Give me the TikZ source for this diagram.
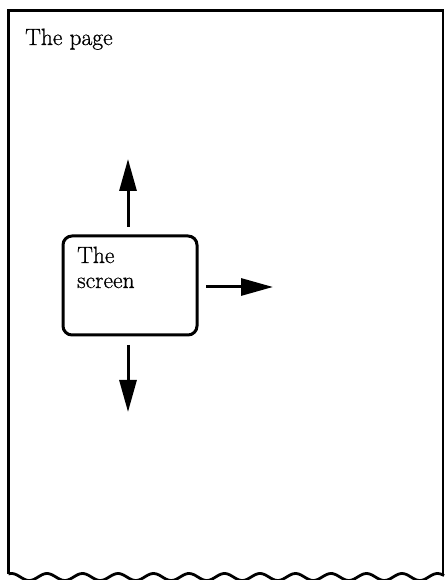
\documentclass[tikz,border=0pt]{standalone}
\usepackage{fontspec}
\newfontfamily\pagefont{Latin Modern Roman}[FakeBold=0.8]
\usetikzlibrary{arrows.meta}
\begin{document}
\begin{tikzpicture}[x=1pt,y=1pt,
  outline/.style={line width=2.8pt},
  bigarrow/.style={line width=3pt, -{Triangle[length=32pt,width=17pt]}},
  txt/.style={font=\pagefont\fontsize{23.5}{26}\selectfont, inner sep=0pt, anchor=base west},
  screenbox/.style={draw, line width=3pt, rounded corners=9pt, minimum width=134pt, minimum height=99pt, inner sep=0pt}]
\useasboundingbox (0,0) rectangle (444,580);
% page outline
\coordinate (tl) at (8.5,569.5);
\coordinate (tr) at (443,569.5);
\coordinate (bl) at (8.5,6);
\coordinate (br) at (443,6);
\draw[outline] (bl) -- (tl) -- (tr) -- (br);
\draw[outline] (bl) -- plot[domain=8.5:444, samples=220, smooth] (\x, {3+3.5*cos((\x-47)*10.14)});
\node[txt] (page) at (25,535) {The page};
% screen
\node[screenbox] (screen) at (130,294.5) {};
\node[txt] (t1) at (77,317) {The};
\node[txt] (t2) at (77,292) {screen};
% arrows
\coordinate (us) at (128,353);
\coordinate (ue) at (128,421);
\coordinate (rs) at (206,293);
\coordinate (re) at (273,293);
\coordinate (ds) at (128,235);
\coordinate (de) at (128,168);
\draw[bigarrow] (us) -- (ue);
\draw[bigarrow] (rs) -- (re);
\draw[bigarrow] (ds) -- (de);
\end{tikzpicture}
\end{document}
